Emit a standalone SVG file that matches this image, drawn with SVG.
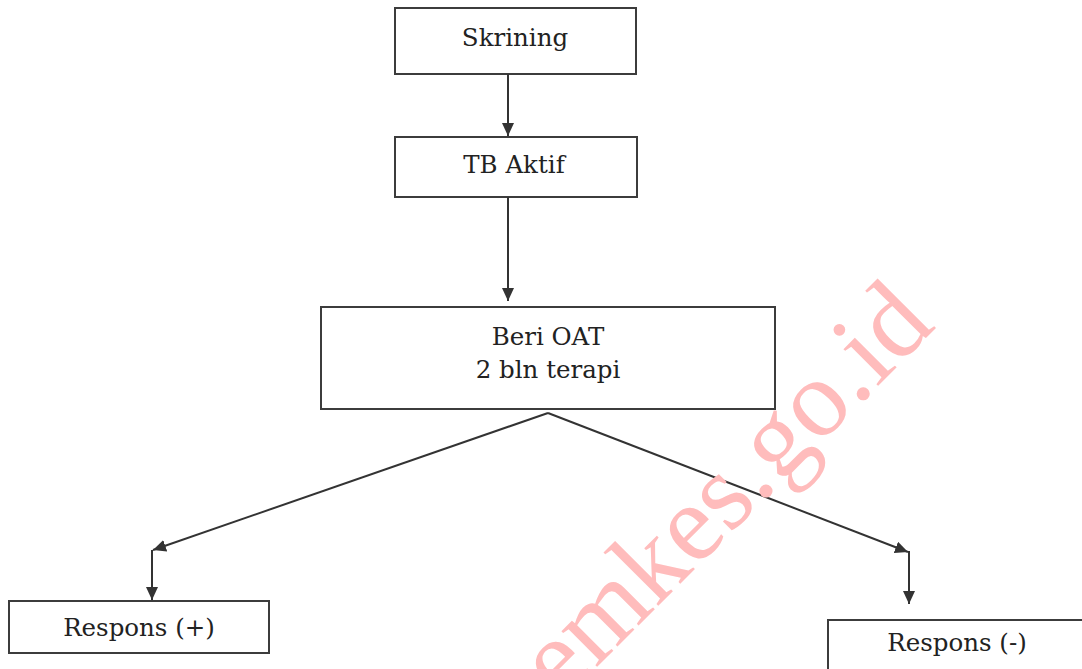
<svg xmlns="http://www.w3.org/2000/svg" width="1082" height="669" viewBox="0 0 1082 669">
<style>
.box{fill:#fff;stroke:#3c3c3c;stroke-width:2}
.lbl{font-family:"DejaVu Serif","Liberation Serif",serif;font-size:24.5px;fill:#222;text-anchor:middle}
.con{fill:none;stroke:#333;stroke-width:2}
.wm{font-family:"Liberation Serif",serif;font-size:110px;fill:#ffbcbc}
</style>
<defs>
<marker id="ah" markerUnits="userSpaceOnUse" markerWidth="14" markerHeight="12" refX="13" refY="6" orient="auto">
<path d="M0,0 L13,6 L0,12 z" fill="#333"/>
</marker>
</defs>
<rect width="1082" height="669" fill="#fff"/>
<g id="skrining">
<rect class="box" x="395" y="8" width="241" height="66"/>
<text class="lbl" x="515" y="46">Skrining</text>
</g>
<g id="tb-aktif">
<rect class="box" x="395" y="137" width="242" height="60"/>
<text class="lbl" x="514" y="173">TB Aktif</text>
</g>
<g id="beri-oat">
<rect class="box" x="321" y="307" width="454" height="102"/>
<text class="lbl" x="548" y="345">Beri OAT</text>
<text class="lbl" x="548" y="378">2 bln terapi</text>
</g>
<g id="respons-plus">
<rect class="box" x="9" y="601" width="260" height="52"/>
<text class="lbl" x="139" y="636">Respons (+)</text>
</g>
<g id="respons-minus">
<rect class="box" x="828" y="620" width="260" height="60"/>
<text class="lbl" x="957" y="651">Respons (-)</text>
</g>
<g id="connectors">
<line class="con" x1="508" y1="74" x2="508" y2="136" marker-end="url(#ah)"/>
<line class="con" x1="508" y1="197" x2="508" y2="301" marker-end="url(#ah)"/>
<line class="con" x1="548" y1="413" x2="153" y2="550" marker-end="url(#ah)"/>
<line class="con" x1="152" y1="550" x2="152" y2="600" marker-end="url(#ah)"/>
<line class="con" x1="548" y1="413" x2="908" y2="552" marker-end="url(#ah)"/>
<line class="con" x1="909" y1="551" x2="909" y2="604" marker-end="url(#ah)"/>
</g>
<text class="wm" transform="translate(561,703) rotate(-45)">emkes.go.id</text>
</svg>
